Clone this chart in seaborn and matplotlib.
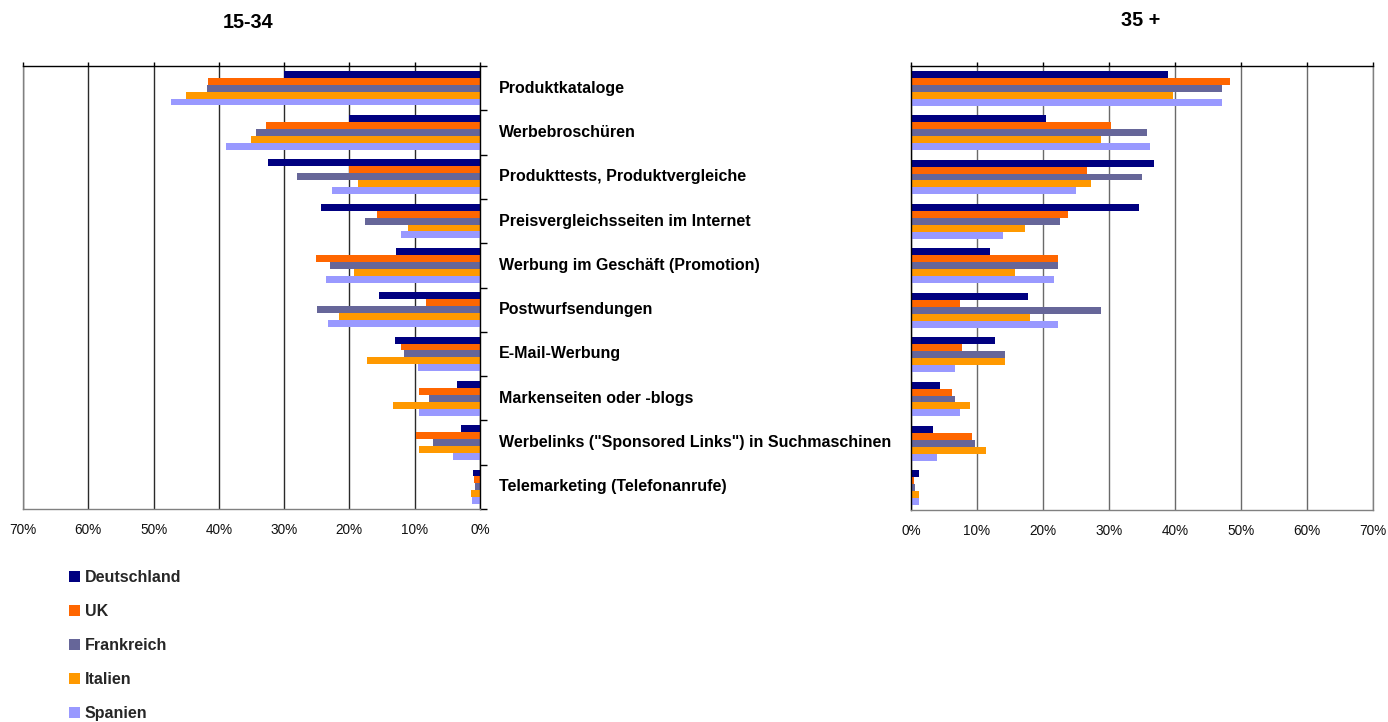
import numpy as np
import pandas as pd
import matplotlib
matplotlib.use("Agg")
import matplotlib.pyplot as plt
import seaborn as sns

# Kategorien (von oben nach unten)
kategorien = [
    "Produktkataloge",
    "Werbebroschüren",
    "Produkttests, Produktvergleiche",
    "Preisvergleichsseiten im Internet",
    "Werbung im Geschäft (Promotion)",
    "Postwurfsendungen",
    "E-Mail-Werbung",
    "Markenseiten oder -blogs",
    "Werbelinks (\"Sponsored Links\") in Suchmaschinen",
    "Telemarketing (Telefonanrufe)",
]

laender = ["Deutschland", "UK", "Frankreich", "Italien", "Spanien"]
farben = ["#000080", "#FF6600", "#666699", "#FF9900", "#9999FF"]

# Altersgruppe 15-34 (Anteil in %)
jung_deutschland = [30.0, 20.0, 32.5, 24.3, 12.9, 15.5, 13.0, 3.5, 2.9, 1.1]
jung_uk = [41.7, 32.8, 20.0, 15.8, 25.1, 8.3, 12.1, 9.3, 9.8, 0.9]
jung_frankreich = [41.8, 34.3, 28.0, 17.6, 23.0, 25.0, 11.6, 7.8, 7.2, 0.8]
jung_italien = [45.0, 35.1, 18.7, 11.0, 19.3, 21.6, 17.3, 13.3, 9.3, 1.4]
jung_spanien = [47.3, 38.9, 22.7, 12.1, 23.6, 23.3, 9.5, 9.3, 4.1, 1.2]

# Altersgruppe 35 + (Anteil in %)
alt_deutschland = [38.9, 20.4, 36.8, 34.5, 11.9, 17.8, 12.8, 4.4, 3.3, 1.2]
alt_uk = [48.3, 30.3, 26.7, 23.8, 22.2, 7.4, 7.8, 6.2, 9.2, 0.5]
alt_frankreich = [47.1, 35.7, 35.0, 22.6, 22.3, 28.8, 14.3, 6.6, 9.7, 0.6]
alt_italien = [39.7, 28.8, 27.3, 17.3, 15.7, 18.1, 14.3, 8.9, 11.3, 1.2]
alt_spanien = [47.1, 36.2, 25.0, 13.9, 21.6, 22.3, 6.6, 7.4, 3.9, 1.2]

x_ticks = [0, 10, 20, 30, 40, 50, 60, 70]
x_labels = [f"{v}%" for v in x_ticks]


def long_table(series):
    rows = []
    for land, werte in zip(laender, series):
        for kat, w in zip(kategorien, werte):
            rows.append({"Kategorie": kat, "Land": land, "Wert": w})
    return pd.DataFrame(rows)


df_jung = long_table([jung_deutschland, jung_uk, jung_frankreich, jung_italien, jung_spanien])
df_alt = long_table([alt_deutschland, alt_uk, alt_frankreich, alt_italien, alt_spanien])

sns.set_theme(style="white")
plt.rcParams["font.family"] = ["Liberation Sans", "DejaVu Sans"]

W, H = 1388, 722
fig = plt.figure(figsize=(W / 100, H / 100), dpi=100)


def px_axes(x0, x1, y0, y1):
    return fig.add_axes([x0 / W, 1 - y1 / H, (x1 - x0) / W, (y1 - y0) / H])


ax_l = px_axes(23, 480, 66, 509)
ax_r = px_axes(911, 1373, 66, 510)

for ax, df in ((ax_l, df_jung), (ax_r, df_alt)):
    sns.barplot(
        data=df, y="Kategorie", x="Wert", hue="Land", hue_order=laender,
        order=kategorien, orient="h", palette=farben, saturation=1,
        width=0.78, errorbar=None, linewidth=0, ax=ax, legend=(ax is ax_l),
    )
    ax.set_xlim(0, 70)
    ax.set_ylim(9.5, -0.5)
    ax.set_xticks(x_ticks)
    ax.set_xticklabels(x_labels, fontsize=9.8, color="#111111")
    ax.set_xlabel("")
    ax.set_ylabel("")
    ax.set_axisbelow(True)
    ax.tick_params(axis="x", bottom=False, top=True, labelbottom=True,
                   labeltop=False, direction="out", length=3, width=1.0,
                   color="black", pad=7)
    for s in ax.spines.values():
        s.set_linewidth(1.0)

# linke Seite: Achse gespiegelt, 0% rechts
ax_l.invert_xaxis()
ax_l.xaxis.grid(True, color="#2a2a2a", linewidth=1.0)
ax_l.spines["top"].set_color("black")
ax_l.spines["right"].set_color("black")
ax_l.spines["left"].set_color("#808080")
ax_l.spines["bottom"].set_color("#808080")
ax_l.set_yticks(np.arange(-0.5, 10, 1))
ax_l.set_yticklabels([])
ax_l.tick_params(axis="y", left=False, right=True, direction="out",
                 length=5, width=1.0, color="black")

ax_r.xaxis.grid(True, color="#6a6a6a", linewidth=1.0)
ax_r.spines["top"].set_color("black")
ax_r.spines["left"].set_color("black")
ax_r.spines["right"].set_color("#808080")
ax_r.spines["bottom"].set_color("#808080")
ax_r.set_yticks([])

# Kategorienamen zwischen den beiden Diagrammen
for i, kat in enumerate(kategorien):
    ax_l.text((499 - 23) / (480 - 23), i, kat, transform=ax_l.get_yaxis_transform(),
              ha="left", va="center", fontsize=11.5, fontweight="bold",
              color="#000000")

# Titel der Altersgruppen
fig.text(248 / W, 1 - 23 / H, "15-34", ha="center", va="center",
         fontsize=14.3, fontweight="bold", color="#000000")
fig.text(1141 / W, 1 - 21 / H, "35 +", ha="center", va="center",
         fontsize=14.3, fontweight="bold", color="#000000")

# Legende unten links
handles, labels = ax_l.get_legend_handles_labels()
ax_l.get_legend().remove()
fig.legend(handles, labels, loc="upper left",
           bbox_to_anchor=(69 / W, 1 - 570 / H), frameon=False,
           handlelength=0.7, handleheight=0.7, handletextpad=0.3,
           labelspacing=1.19, borderaxespad=0, borderpad=0,
           prop={"weight": "bold", "size": 11.5})

fig.savefig("out.png", dpi=100)
